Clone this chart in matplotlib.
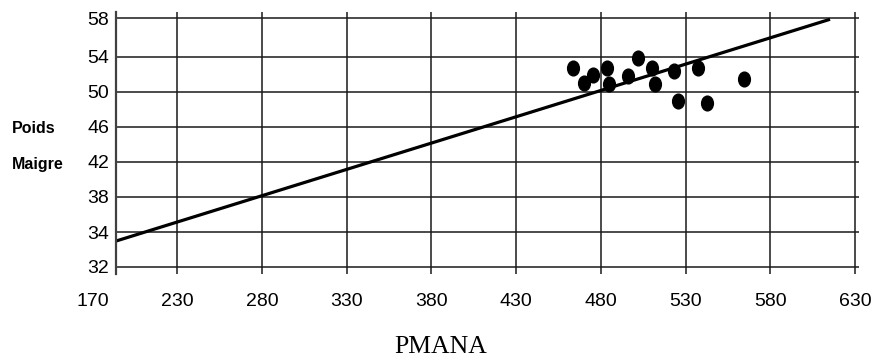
import matplotlib
matplotlib.use("Agg")
import matplotlib.pyplot as plt
from matplotlib.markers import MarkerStyle
from matplotlib.transforms import Affine2D

# scatter points (PMANA, Poids Maigre)
pmana = [463.4, 470.1, 475.6, 483.8, 484.8, 496.2, 501.8, 510.2, 511.8, 523.2, 525.6, 537.2, 542.9, 564.4]
poids = [52.68, 51.03, 51.91, 52.75, 50.85, 51.80, 53.82, 52.75, 50.85, 52.37, 48.95, 52.75, 48.75, 51.42]

# fitted line end points
fit_x = [193.8, 615.3]
fit_y = [32.97, 58.27]

# axis ticks as drawn in the original (end labels sit on the axis limits)
x_ticks = [230, 280, 330, 380, 430, 480, 530, 580, 630]
x_labels = ["230", "280", "330", "380", "430", "480", "530", "580", "630"]
x_first_pos, x_first_label = 180, "170"
y_ticks = [30.04, 34, 38, 42, 46, 50, 54, 58.38]
y_labels = ["32", "34", "38", "42", "46", "50", "54", "58"]

SANS = ["Liberation Sans", "DejaVu Sans"]
SERIF = ["Liberation Serif", "DejaVu Serif"]

fig = plt.figure(figsize=(8.77, 3.58), dpi=100)
ax = fig.add_axes([116 / 877, 1 - 274 / 358, (859 - 116) / 877, (274 - 12) / 358])
ax.set_xlim(193.8, 632.4)
ax.set_ylim(29.21, 59.10)

ax.set_xticks(x_ticks)
ax.set_xticklabels(x_labels, fontfamily=SANS, fontsize=14)
ax.set_yticks(y_ticks)
ax.set_yticklabels(y_labels, fontfamily=SANS, fontsize=14)
ax.tick_params(axis="x", length=0, pad=14)
ax.tick_params(axis="y", length=0, pad=5)

ax.grid(True, color="#1a1a1a", lw=1.1)
ax.set_axisbelow(True)
for s in ("top", "right", "bottom"):
    ax.spines[s].set_visible(False)
ax.spines["left"].set_color("#404040")
ax.spines["left"].set_linewidth(1.6)

# the first x label sits left of the axis
ax.annotate(x_first_label, xy=(x_first_pos, 0), xycoords=("data", "axes fraction"),
            xytext=(0, -14), textcoords="offset points", ha="center", va="top",
            fontfamily=SANS, fontsize=14, annotation_clip=False)

ax.plot(fit_x, fit_y, color="black", lw=2.3, solid_capstyle="butt")
dot = MarkerStyle("o", transform=Affine2D().scale(0.8, 1.0))
ax.plot(pmana, poids, ls="none", marker=dot, ms=10.6, color="black")

fig.text(12 / 877, 1 - 133.3 / 358, "Poids", fontfamily=SANS, fontsize=11.5,
         fontweight="bold", ha="left", va="baseline")
fig.text(12 / 877, 1 - 169 / 358, "Maigre", fontfamily=SANS, fontsize=11.5,
         fontweight="bold", ha="left", va="baseline")
fig.text(441 / 877, 1 - 353.3 / 358, "PMANA", fontfamily=SERIF, fontsize=18.5,
         ha="center", va="baseline")

fig.savefig("out.png", dpi=100)
